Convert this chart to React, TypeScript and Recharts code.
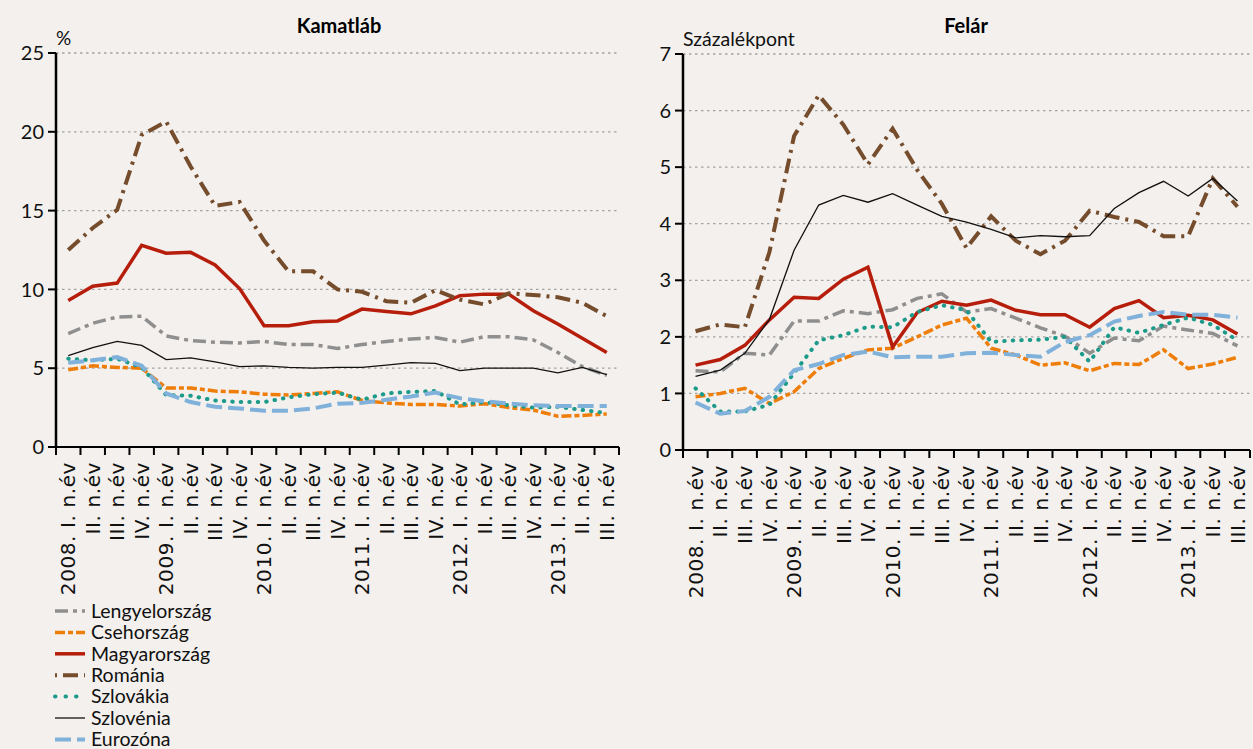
import { CartesianGrid, Line, LineChart, XAxis, YAxis } from "recharts";

const quarters = [
  "2008. I. n.év", "II. n.év", "III. n.év", "IV. n.év",
  "2009. I. n.év", "II. n.év", "III. n.év", "IV. n.év",
  "2010. I. n.év", "II. n.év", "III. n.év", "IV. n.év",
  "2011. I. n.év", "II. n.év", "III. n.év", "IV. n.év",
  "2012. I. n.év", "II. n.év", "III. n.év", "IV. n.év",
  "2013. I. n.év", "II. n.év", "III. n.év",
];

// Kamatláb (%)
const rateLengyel = [7.2, 7.85, 8.25, 8.3, 7.05, 6.75, 6.65, 6.6, 6.7, 6.5, 6.5, 6.25, 6.5, 6.7, 6.85, 6.95, 6.65, 7.0, 7.0, 6.8, 6.0, 5.1, 4.55];
const rateCseh = [4.9, 5.15, 5.05, 5.0, 3.75, 3.75, 3.55, 3.5, 3.35, 3.3, 3.4, 3.5, 2.95, 2.8, 2.7, 2.7, 2.6, 2.75, 2.5, 2.35, 1.95, 2.0, 2.1];
const rateMagyar = [9.3, 10.2, 10.4, 12.8, 12.3, 12.35, 11.55, 10.05, 7.7, 7.7, 7.95, 8.0, 8.75, 8.6, 8.45, 8.95, 9.6, 9.7, 9.7, 8.65, 7.8, 6.9, 6.0];
const rateRoman = [12.5, 13.9, 15.05, 19.8, 20.65, 17.8, 15.3, 15.55, 13.1, 11.15, 11.15, 10.0, 9.85, 9.25, 9.15, 9.95, 9.35, 9.05, 9.75, 9.65, 9.5, 9.15, 8.3];
const rateSzlovak = [5.6, 5.5, 5.6, 5.05, 3.3, 3.25, 2.95, 2.85, 2.85, 3.15, 3.35, 3.45, 3.0, 3.4, 3.5, 3.55, 2.7, 2.85, 2.65, 2.5, 2.55, 2.35, 2.15];
const rateSzloven = [5.8, 6.3, 6.7, 6.45, 5.55, 5.65, 5.4, 5.1, 5.15, 5.05, 5.0, 5.05, 5.05, 5.2, 5.35, 5.3, 4.85, 5.0, 5.0, 5.0, 4.7, 5.05, 4.6];
const rateEuro = [5.35, 5.5, 5.7, 5.15, 3.4, 2.85, 2.55, 2.45, 2.3, 2.3, 2.45, 2.75, 2.8, 3.0, 3.2, 3.45, 3.1, 2.9, 2.75, 2.65, 2.6, 2.6, 2.6];

// Felár (százalékpont)
const spreadLengyel = [1.4, 1.38, 1.71, 1.68, 2.28, 2.28, 2.46, 2.41, 2.48, 2.68, 2.76, 2.44, 2.5, 2.33, 2.16, 2.01, 1.71, 1.98, 1.93, 2.19, 2.12, 2.06, 1.84];
const spreadCseh = [0.94, 1.0, 1.09, 0.82, 1.03, 1.44, 1.62, 1.77, 1.8, 2.0, 2.21, 2.33, 1.8, 1.68, 1.5, 1.54, 1.4, 1.53, 1.51, 1.77, 1.44, 1.52, 1.64];
const spreadMagyar = [1.5, 1.6, 1.85, 2.3, 2.7, 2.68, 3.02, 3.23, 1.82, 2.43, 2.63, 2.56, 2.65, 2.47, 2.39, 2.39, 2.17, 2.5, 2.64, 2.34, 2.38, 2.3, 2.05];
const spreadRoman = [2.1, 2.22, 2.17, 3.5, 5.55, 6.27, 5.75, 5.05, 5.68, 4.95, 4.35, 3.57, 4.13, 3.7, 3.46, 3.7, 4.23, 4.12, 4.03, 3.78, 3.78, 4.8, 4.3];
const spreadSzlovak = [1.09, 0.68, 0.68, 0.8, 1.36, 1.94, 2.03, 2.18, 2.17, 2.44, 2.56, 2.47, 1.91, 1.94, 1.95, 2.0, 1.56, 2.17, 2.07, 2.21, 2.34, 2.21, 1.94];
const spreadSzloven = [1.3, 1.41, 1.71, 2.31, 3.53, 4.33, 4.5, 4.38, 4.53, 4.33, 4.13, 4.03, 3.9, 3.75, 3.79, 3.77, 3.79, 4.27, 4.55, 4.75, 4.49, 4.8, 4.4];
const spreadEuro = [0.84, 0.64, 0.69, 0.94, 1.41, 1.52, 1.68, 1.74, 1.64, 1.65, 1.65, 1.71, 1.72, 1.68, 1.65, 1.91, 2.03, 2.27, 2.37, 2.44, 2.39, 2.39, 2.34];

const rateTicks = [0, 5, 10, 15, 20, 25];
const spreadTicks = [0, 1, 2, 3, 4, 5, 6, 7];

const series = [
  { key: "pl", name: "Lengyelország", color: "#8f8f8f", width: 3.5, dash: "13 5 4 5", legendOffset: 0, cap: "butt" },
  { key: "cz", name: "Csehország", color: "#ef7d0a", width: 3.5, dash: "10 3 5 3", legendOffset: 0, cap: "butt" },
  { key: "hu", name: "Magyarország", color: "#b71d0b", width: 3.5, dash: undefined, legendOffset: 0, cap: "butt" },
  { key: "ro", name: "Románia", color: "#754c2c", width: 4, dash: "15 6 3 6", legendOffset: 22, cap: "butt" },
  { key: "sk", name: "Szlovákia", color: "#1c9a8a", width: 4, dash: "0.5 8", legendOffset: 0, cap: "round" },
  { key: "si", name: "Szlovénia", color: "#111111", width: 1.3, dash: undefined, legendOffset: 0, cap: "butt" },
  { key: "ez", name: "Eurozóna", color: "#7fb1da", width: 4, dash: "16 6", legendOffset: 0, cap: "butt" },
];

const rateData = quarters.map((q, i) => ({
  q,
  pl: rateLengyel[i],
  cz: rateCseh[i],
  hu: rateMagyar[i],
  ro: rateRoman[i],
  sk: rateSzlovak[i],
  si: rateSzloven[i],
  ez: rateEuro[i],
}));

const spreadData = quarters.map((q, i) => ({
  q,
  pl: spreadLengyel[i],
  cz: spreadCseh[i],
  hu: spreadMagyar[i],
  ro: spreadRoman[i],
  sk: spreadSzlovak[i],
  si: spreadSzloven[i],
  ez: spreadEuro[i],
}));

const LABEL_FONT = "Lato, 'Open Sans', sans-serif";
const TICK_GAP = 15;

function QuarterTick(props: any) {
  const { x, y, payload, half } = props;
  const axisY = y - TICK_GAP;
  const last = payload.index === quarters.length - 1;
  return (
    <g>
      <line x1={x - half} x2={x - half} y1={axisY} y2={axisY + 8} stroke="#000" strokeWidth={2} />
      {last && <line x1={x + half} x2={x + half} y1={axisY} y2={axisY + 8} stroke="#000" strokeWidth={2} />}
      <text
        x={x}
        y={y}
        dy="0.36em"
        textAnchor="end"
        transform={`rotate(-90 ${x} ${y})`}
        fontFamily="'DejaVu Sans', sans-serif"
        fontSize={20}
        letterSpacing={0.6}
        fill="#111"
      >
        {payload.value}
      </text>
    </g>
  );
}

function Panel({ data, ticks, max, yWidth, top, right, half, plotH }: any) {
  return (
    <LineChart
      width={630}
      height={600}
      data={data}
      margin={{ top, right, left: 0, bottom: 0 }}
    >
      <CartesianGrid
        vertical={false}
        stroke="#a3a3a3"
        strokeWidth={1.3}
        strokeDasharray="2.5 3.5"
      />
      <XAxis
        dataKey="q"
        interval={0}
        padding={{ left: half, right: half }}
        height={600 - top - plotH}
        axisLine={{ stroke: "#000", strokeWidth: 2 }}
        tickLine={false}
        tickSize={8}
        tickMargin={7}
        tick={(p: any) => <QuarterTick {...p} half={half} />}
      />
      <YAxis
        type="number"
        domain={[0, max]}
        ticks={ticks}
        width={yWidth}
        axisLine={{ stroke: "#000", strokeWidth: 2.5 }}
        tickLine={{ stroke: "#000", strokeWidth: 2 }}
        tickSize={8}
        tickMargin={4}
        tick={{ fontFamily: LABEL_FONT, fontSize: 20, fill: "#111" }}
      />
      {series.map((s) => (
        <Line
          key={s.key}
          type="linear"
          dataKey={s.key}
          name={s.name}
          stroke={s.color}
          strokeWidth={s.width}
          strokeDasharray={s.dash}
          strokeLinecap={s.cap as any}
          dot={false}
          activeDot={false}
          isAnimationActive={false}
        />
      ))}
    </LineChart>
  );
}

function LegendBlock() {
  return (
    <svg width={320} height={160} style={{ position: "absolute", left: 0, top: 598 }}>
      {series.map((s, i) => {
        const cy = 13 + i * 21.4;
        return (
          <g key={s.key}>
            <line
              x1={55}
              x2={85}
              y1={cy}
              y2={cy}
              stroke={s.color}
              strokeWidth={s.width}
              strokeDasharray={s.dash === "0.5 8" ? "0.5 10" : s.dash}
              strokeDashoffset={s.legendOffset}
              strokeLinecap={s.cap as any}
            />
            <text x={91} y={cy} dy="0.35em" fontFamily={LABEL_FONT} fontSize={19.5} fill="#111">
              {s.name}
            </text>
          </g>
        );
      })}
    </svg>
  );
}

export default function App() {
  return (
    <div
      style={{
        position: "fixed",
        left: 0,
        top: 0,
        width: 1253,
        height: 749,
        overflow: "hidden",
        background: "#f3f0ed",
        fontFamily: LABEL_FONT,
      }}
    >
      <div style={{ position: "absolute", left: 0, top: 0 }}>
        <Panel data={rateData} ticks={rateTicks} max={25} yWidth={56} top={53} right={11} half={12.24} plotH={394} />
      </div>
      <div style={{ position: "absolute", left: 630, top: 0 }}>
        <Panel data={spreadData} ticks={spreadTicks} max={7} yWidth={53} top={54} right={10} half={12.54} plotH={396} />
      </div>
      <svg width={1253} height={60} style={{ position: "absolute", left: 0, top: 0 }}>
        <text x={339} y={33} textAnchor="middle" fontFamily={LABEL_FONT} fontWeight={700} fontSize={20} fill="#000">
          Kamatláb
        </text>
        <text x={966} y={33} textAnchor="middle" fontFamily={LABEL_FONT} fontWeight={700} fontSize={20} fill="#000">
          Felár
        </text>
        <text x={56} y={45} fontFamily={LABEL_FONT} fontSize={19} fill="#111">
          %
        </text>
        <text x={683} y={46} fontFamily={LABEL_FONT} fontSize={19.5} fill="#111">
          Százalékpont
        </text>
      </svg>
      <LegendBlock />
    </div>
  );
}
